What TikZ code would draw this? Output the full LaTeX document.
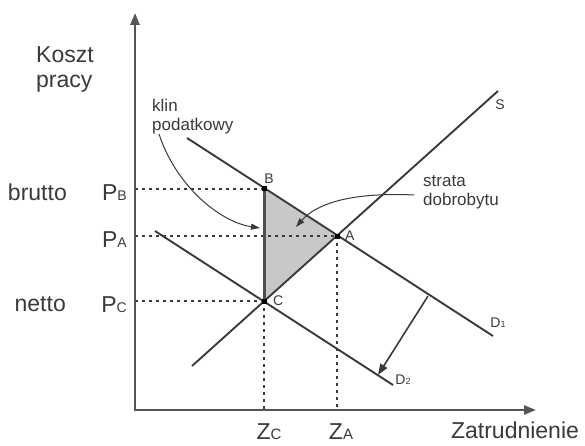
\documentclass[tikz,border=0pt]{standalone}
\usepackage{fontspec}
\setmainfont{Liberation Sans}
\usetikzlibrary{positioning, arrows.meta}
\definecolor{LineGray}{RGB}{58,58,58}
\definecolor{AxisGray}{RGB}{85,85,85}
\definecolor{WedgeGray}{RGB}{200,200,200}

\begin{document}
\begin{tikzpicture}[
    x=1pt, y=-1pt,
    >={Triangle[length=9pt, width=6pt]},
    axis/.style={AxisGray, line width=2.4pt, arrows={Triangle[length=12pt, width=9pt]-Triangle[length=12pt, width=9pt]}},
    curve/.style={LineGray, line width=1.9pt},
    guide/.style={LineGray, line width=1.4pt, dash pattern=on 3pt off 4pt},
    pointer/.style={->, LineGray, line width=1pt},
    dot/.style={rectangle, fill=black, inner sep=0pt, minimum size=5pt},
    biglabel/.style={font=\fontsize{23}{25}\selectfont, inner sep=0pt, text=LineGray},
    note/.style={font=\fontsize{17}{19}\selectfont, align=left, inner sep=0pt, text=LineGray},
    ptlabel/.style={font=\fontsize{14}{16}\selectfont, inner sep=0pt, text=LineGray}
]
  \useasboundingbox (0,0) rectangle (585,446);

  % Points
  \coordinate (O) at (135,410);
  \coordinate (ytop) at (135,13);
  \coordinate (xend) at (536,410);
  \coordinate (B) at (264,189);
  \coordinate (A) at (337,236);
  \coordinate (C) at (264,301);
  \coordinate (S0) at (192,366);
  \coordinate (S1) at (498,91);
  \coordinate (D1a) at (187,138);
  \coordinate (D1b) at (493,336);
  \coordinate (D2a) at (155,231);
  \coordinate (D2b) at (393,385);

  % Tax wedge area
  \fill[WedgeGray] (B) -- (A) -- (C) -- cycle;

  % Guides
  \draw[guide] (B -| O) -- (B);
  \draw[guide] (A -| O) -- (A);
  \draw[guide] (C -| O) -- (C);
  \draw[guide] (C) -- (C |- O);
  \draw[guide] (A) -- (A |- O);

  % Axes
  \draw[axis] (ytop) -- (O) -- (xend);

  % Supply and demand
  \draw[curve] (S0) -- (S1);
  \draw[curve] (D1a) -- (D1b);
  \draw[curve] (D2a) -- (D2b);
  \draw[LineGray!90, line width=3pt] (B) -- (C);

  \node[dot] (dotB) at (B) {};
  \node[dot] (dotA) at (A) {};
  \node[dot] (dotC) at (C) {};

  % Shift of demand
  \coordinate (shiftFrom) at (428,296);
  \coordinate (shiftTo) at (378,375);
  \draw[->, LineGray, line width=1.6pt, >={Triangle[length=11pt, width=8pt]}] (shiftFrom) -- (shiftTo);

  % Labels
  \node[biglabel, anchor=north west, align=left] (koszt) at (36,46) {Koszt\\pracy};
  \node[biglabel, anchor=east] (brutto) at (67,192) {brutto};
  \node[biglabel, anchor=east] (netto) at (66,304) {netto};
  \node[biglabel, anchor=east] (PB) at (127,193) {P{\fontsize{14}{16}\selectfont B}};
  \node[biglabel, anchor=east] (PA) at (127,240) {P{\fontsize{14}{16}\selectfont A}};
  \node[biglabel, anchor=east] (PC) at (127,305) {P{\fontsize{14}{16}\selectfont C}};
  \node[biglabel] (ZC) at (269,432) {Z{\fontsize{15}{16}\selectfont C}};
  \node[biglabel] (ZA) at (341,432) {Z{\fontsize{15}{16}\selectfont A}};
  \node[biglabel] (zatr) at (515,430) {Zatrudnienie};

  \node[ptlabel, above=5pt of B, xshift=5pt] (labB) {B};
  \node[ptlabel, right=8pt of A] (labA) {A};
  \node[ptlabel, right=9pt of C] (labC) {C};
  \node[ptlabel] (labS) at (500,105) {S};
  \node[ptlabel] (labD1) at (498,323) {D{\fontsize{9}{10}\selectfont 1}};
  \node[ptlabel] (labD2) at (403,380) {D{\fontsize{9}{10}\selectfont 2}};

  % Notes
  \node[note, anchor=north west] (klin) at (152,99) {klin\\podatkowy};
  \node[note, anchor=north west] (strata) at (423,175) {strata\\dobrobytu};

  \coordinate (klinStart) at (159,134);
  \coordinate (klinTip) at (260,228);
  \coordinate (strataStart) at (414,195);
  \coordinate (strataTip) at (296,227);
  \draw[pointer] (klinStart) .. controls (176,186) and (220,222) .. (klinTip);
  \draw[pointer] (strataStart) .. controls (350,192) and (316,204) .. (strataTip);
\end{tikzpicture}
\end{document}
